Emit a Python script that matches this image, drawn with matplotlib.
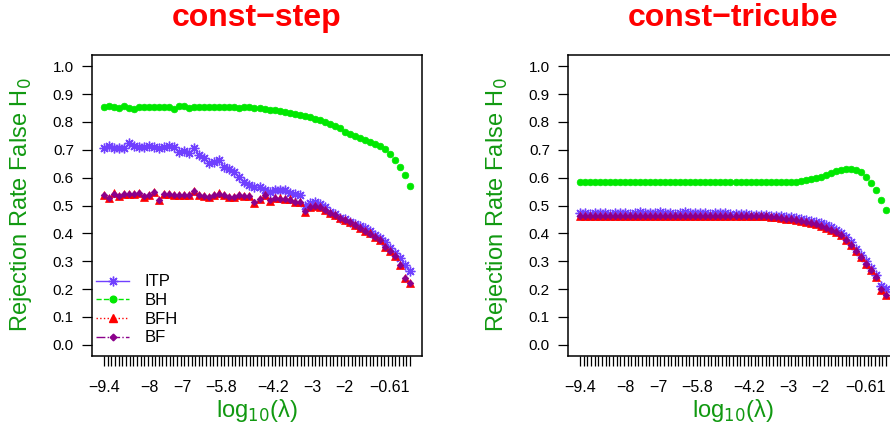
import matplotlib
matplotlib.use("Agg")
import matplotlib.pyplot as plt
import numpy as np
from matplotlib.lines import Line2D

plt.rcParams['font.family'] = ['Liberation Sans', 'DejaVu Sans']

# lambda grid (log10), 62 values
log_lambda = np.linspace(-9.4, 0.0, 62)
tick_vals = [-9.4, -8, -7, -5.8, -4.2, -3, -2, -0.61]
tick_text = ['-9.4', '-8', '-7', '-5.8', '-4.2', '-3', '-2', '-0.61']

# const-step
itp_step = [0.708, 0.714, 0.705, 0.705, 0.706, 0.723, 0.713, 0.711, 0.709, 0.713,
            0.711, 0.705, 0.711, 0.713, 0.709, 0.693, 0.695, 0.687, 0.708, 0.681,
            0.669, 0.651, 0.655, 0.663, 0.639, 0.630, 0.621, 0.604, 0.585, 0.572,
            0.567, 0.567, 0.556, 0.550, 0.555, 0.556, 0.554, 0.546, 0.540, 0.538,
            0.498, 0.510, 0.514, 0.505, 0.496, 0.476, 0.468, 0.456, 0.450, 0.440,
            0.432, 0.427, 0.418, 0.408, 0.395, 0.382, 0.368, 0.348, 0.330, 0.310,
            0.285, 0.265]
bh_step = [0.852, 0.856, 0.853, 0.851, 0.857, 0.851, 0.848, 0.855, 0.852, 0.853,
           0.852, 0.855, 0.853, 0.855, 0.846, 0.856, 0.857, 0.851, 0.852, 0.853,
           0.852, 0.855, 0.852, 0.853, 0.854, 0.855, 0.853, 0.851, 0.854, 0.852,
           0.851, 0.850, 0.847, 0.843, 0.841, 0.839, 0.836, 0.833, 0.829, 0.825,
           0.822, 0.816, 0.811, 0.806, 0.800, 0.791, 0.784, 0.777, 0.765, 0.755,
           0.748, 0.742, 0.734, 0.727, 0.720, 0.713, 0.703, 0.685, 0.662, 0.639,
           0.609, 0.570]
bfh_step = [0.538, 0.526, 0.544, 0.534, 0.541, 0.543, 0.543, 0.545, 0.532, 0.538,
            0.550, 0.520, 0.541, 0.541, 0.538, 0.538, 0.538, 0.538, 0.552, 0.538,
            0.534, 0.532, 0.538, 0.544, 0.538, 0.532, 0.530, 0.538, 0.534, 0.534,
            0.510, 0.522, 0.538, 0.517, 0.526, 0.526, 0.522, 0.522, 0.514, 0.514,
            0.478, 0.496, 0.500, 0.496, 0.484, 0.472, 0.465, 0.454, 0.448, 0.442,
            0.430, 0.418, 0.410, 0.400, 0.386, 0.376, 0.352, 0.335, 0.319, 0.287,
            0.239, 0.221]
bf_step = [0.537, 0.527, 0.543, 0.534, 0.540, 0.542, 0.543, 0.544, 0.533, 0.538,
           0.549, 0.521, 0.540, 0.541, 0.538, 0.537, 0.538, 0.538, 0.551, 0.538,
           0.534, 0.532, 0.537, 0.543, 0.538, 0.532, 0.531, 0.538, 0.534, 0.533,
           0.511, 0.522, 0.537, 0.518, 0.526, 0.525, 0.522, 0.521, 0.514, 0.513,
           0.479, 0.496, 0.500, 0.495, 0.484, 0.472, 0.465, 0.454, 0.447, 0.441,
           0.430, 0.418, 0.410, 0.399, 0.386, 0.375, 0.352, 0.335, 0.318, 0.287,
           0.240, 0.222]

# const-tricube
itp_tri = [0.472, 0.474, 0.471, 0.473, 0.474, 0.472, 0.471, 0.473, 0.472, 0.474,
           0.471, 0.473, 0.475, 0.474, 0.472, 0.474, 0.475, 0.473, 0.472, 0.471,
           0.474, 0.475, 0.473, 0.472, 0.474, 0.473, 0.471, 0.472, 0.474, 0.472,
           0.471, 0.470, 0.469, 0.468, 0.467, 0.466, 0.466, 0.466, 0.464, 0.462,
           0.462, 0.459, 0.457, 0.454, 0.452, 0.448, 0.445, 0.441, 0.436, 0.430,
           0.422, 0.413, 0.401, 0.386, 0.368, 0.345, 0.323, 0.300, 0.277, 0.252,
           0.210, 0.200]
bh_tri = [0.585, 0.586, 0.585, 0.585, 0.586, 0.585, 0.584, 0.585, 0.586, 0.585,
          0.585, 0.586, 0.585, 0.585, 0.584, 0.585, 0.586, 0.586, 0.585, 0.585,
          0.586, 0.585, 0.585, 0.586, 0.585, 0.585, 0.586, 0.585, 0.584, 0.585,
          0.586, 0.585, 0.585, 0.585, 0.584, 0.585, 0.585, 0.584, 0.584, 0.585,
          0.585, 0.585, 0.586, 0.586, 0.588, 0.591, 0.595, 0.599, 0.604, 0.611,
          0.618, 0.624, 0.627, 0.630, 0.630, 0.627, 0.621, 0.603, 0.582, 0.556,
          0.519, 0.483]
bfh_tri = [0.462, 0.463, 0.461, 0.462, 0.463, 0.462, 0.461, 0.462, 0.463, 0.462,
           0.461, 0.462, 0.463, 0.462, 0.461, 0.463, 0.464, 0.462, 0.462, 0.461,
           0.462, 0.463, 0.462, 0.461, 0.463, 0.462, 0.461, 0.462, 0.463, 0.462,
           0.461, 0.462, 0.462, 0.461, 0.462, 0.462, 0.462, 0.462, 0.460, 0.458,
           0.456, 0.453, 0.450, 0.447, 0.444, 0.440, 0.436, 0.432, 0.427, 0.421,
           0.413, 0.404, 0.393, 0.378, 0.360, 0.336, 0.314, 0.291, 0.268, 0.242,
           0.198, 0.178]
bf_tri = [0.463, 0.463, 0.462, 0.462, 0.463, 0.462, 0.462, 0.462, 0.463, 0.462,
          0.462, 0.462, 0.463, 0.462, 0.462, 0.463, 0.463, 0.462, 0.462, 0.462,
          0.462, 0.463, 0.462, 0.462, 0.463, 0.462, 0.462, 0.462, 0.463, 0.462,
          0.462, 0.462, 0.462, 0.462, 0.462, 0.462, 0.462, 0.461, 0.460, 0.458,
          0.456, 0.453, 0.450, 0.447, 0.444, 0.440, 0.436, 0.432, 0.427, 0.421,
          0.413, 0.404, 0.393, 0.378, 0.360, 0.337, 0.314, 0.291, 0.268, 0.242,
          0.199, 0.179]

methods = ['ITP', 'BH', 'BFH', 'BF']
colors = ['#7040ff', '#00e800', '#ff0000', '#8b008b']
markers = [(8, 2, 0), 'o', '^', 'D']
msizes = [7, 4.8, 5.4, 3.4]
lstyles = ['-', '--', ':', '-.']

panels = [('const-step', [itp_step, bh_step, bfh_step, bf_step]),
          ('const-tricube', [itp_tri, bh_tri, bfh_tri, bf_tri])]

label_green = '#119911'

fig = plt.figure(figsize=(8.9, 4.32), dpi=100)
lefts = [92 / 890, 568 / 890]
for k, (title, series) in enumerate(panels):
    ax = fig.add_axes([lefts[k], 1 - 356 / 432, 330 / 890, 301 / 432])
    for vals, c, m, ms in zip(series, colors, markers, msizes):
        ax.plot(log_lambda, vals, linestyle='none', marker=m, ms=ms, color=c,
                markeredgecolor=c, markeredgewidth=1.0 if m == (8, 2, 0) else 0.5)
    ax.set_xlim(-9.4 - 0.04 * 9.4, 0.04 * 9.4)
    ax.set_ylim(-0.04, 1.04)
    ax.set_yticks(np.arange(0, 1.01, 0.1))
    ax.set_yticklabels([f'{v:.1f}' for v in np.arange(0, 1.01, 0.1)])
    # labelled positions carry no tick of their own; the dense minor row does
    ax.xaxis.remove_overlapping_locs = False
    ax.set_xticks(tick_vals)
    ax.set_xticklabels([t.replace('-', '\u2212') for t in tick_text])
    ax.set_xticks(np.linspace(-9.4, 0.0, 85), minor=True)
    ax.tick_params(axis='both', which='both', direction='out', length=7,
                   width=0.9, labelsize=11.5, colors='black')
    ax.tick_params(axis='x', which='major', pad=17, length=0)
    ax.tick_params(axis='y', pad=6, labelsize=11)
    for sp in ax.spines.values():
        sp.set_linewidth(1.1)
    cx = lefts[k] + 165 / 890
    fig.text(cx, 1 - 18 / 432, title.replace('-', '\u2212'), color='red',
             fontsize=23, fontweight='bold', ha='center', va='center')
    fig.text(cx, 1 - 410 / 432, 'log$_{10}$(\u03bb)', color=label_green,
             fontsize=17, ha='center', va='center')
    fig.text(lefts[k] - 71 / 890, 1 - 205 / 432, r'Rejection Rate False H$_0$',
             color=label_green, fontsize=17, rotation=90, ha='center', va='center')
    if k == 0:
        handles = [Line2D([0], [0], color=c, linestyle=ls, marker=m, ms=ms,
                          markeredgecolor=c, lw=1.0)
                   for c, ls, m, ms in zip(colors, lstyles, markers, msizes)]
        ax.legend(handles, methods, loc='lower left', frameon=False,
                  bbox_to_anchor=(0.012, 0.035), borderaxespad=0, borderpad=0,
                  handlelength=2.0, handletextpad=0.9, labelspacing=0.22,
                  fontsize=12)

fig.savefig('out.png', dpi=100)
